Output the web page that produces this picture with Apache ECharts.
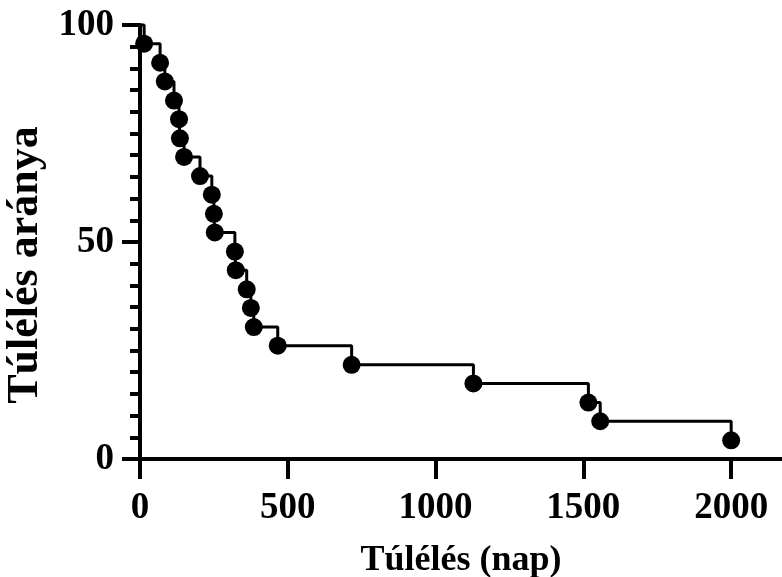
<!DOCTYPE html>
<html>
<head>
<meta charset="utf-8">
<script src="https://cdn.jsdelivr.net/npm/echarts@6/dist/echarts.min.js"></script>
<style>
  html, body { margin: 0; padding: 0; background: #fff; }
  #chart { width: 782px; height: 577px; }
</style>
</head>
<body>
<div id="chart"></div>
<script>
// event times (days) and survival (%) after each event
const days = [14, 68, 84, 115, 132, 135, 149, 203, 243, 250, 253, 321, 324, 361, 375, 385, 466, 716, 1128, 1517, 1557, 2000];
const survival = [95.7, 91.3, 87.0, 82.6, 78.3, 73.9, 69.6, 65.2, 60.9, 56.5, 52.2, 47.8, 43.5, 39.1, 34.8, 30.4, 26.1, 21.7, 17.4, 13.0, 8.7, 4.3];
const startPoint = [0, 100];

const font = 'Liberation Serif';

const points = days.map((d, i) => [d, survival[i]]);
const stepLine = [startPoint].concat(points);

const chart = echarts.init(document.getElementById('chart'));

const option = {
  animation: false,
  grid: { left: 140, right: 0, top: 25, bottom: 118, containLabel: false, outerBoundsMode: 'none' },
  xAxis: {
    type: 'value',
    min: 0,
    max: 2172,
    interval: 500,
    name: 'Túlélés (nap)',
    nameLocation: 'middle',
    nameGap: 84,
    nameTextStyle: { fontFamily: font, fontWeight: 'bold', fontSize: 36, color: '#000' },
    axisLine: { lineStyle: { color: '#000', width: 4 } },
    axisTick: { length: 20, lineStyle: { color: '#000', width: 4 } },
    axisLabel: {
      margin: 31,
      fontFamily: font, fontWeight: 'bold', fontSize: 37, color: '#000',
      showMaxLabel: false,
      formatter: v => String(v)
    },
    splitLine: { show: false }
  },
  yAxis: {
    type: 'value',
    min: 0,
    max: 100,
    interval: 50,
    name: 'Túlélés aránya',
    nameLocation: 'middle',
    nameGap: 82,
    nameTextStyle: {
      fontFamily: font, fontWeight: 'bold', fontSize: 44, color: '#000',
      padding: [0, 46, 0, 0]
    },
    axisLine: { lineStyle: { color: '#000', width: 4 } },
    axisTick: { length: 18, lineStyle: { color: '#000', width: 4 } },
    minorTick: { show: true, splitNumber: 10, length: 10, lineStyle: { color: '#000', width: 4 } },
    axisLabel: {
      margin: 26,
      fontFamily: font, fontWeight: 'bold', fontSize: 37, color: '#000'
    },
    splitLine: { show: false }
  },
  series: [
    {
      type: 'line',
      step: 'end',
      data: stepLine,
      showSymbol: false,
      lineStyle: { color: '#000', width: 3 },
      clip: false
    },
    {
      type: 'scatter',
      data: points,
      symbol: 'circle',
      symbolSize: 18,
      itemStyle: { color: '#000', opacity: 1 },
      clip: false
    }
  ]
};

chart.setOption(option);
</script>
</body>
</html>
